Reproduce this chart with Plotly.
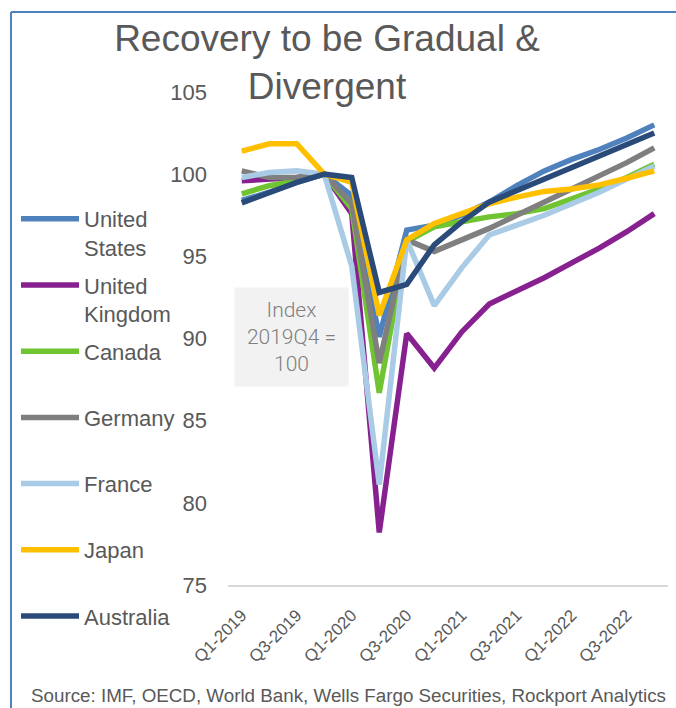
import plotly.graph_objects as go

quarters = ["Q1-2019", "Q2-2019", "Q3-2019", "Q4-2019",
            "Q1-2020", "Q2-2020", "Q3-2020", "Q4-2020",
            "Q1-2021", "Q2-2021", "Q3-2021", "Q4-2021",
            "Q1-2022", "Q2-2022", "Q3-2022", "Q4-2022"]
tick_labels = ["Q1-2019", "Q3-2019", "Q1-2020", "Q3-2020",
               "Q1-2021", "Q3-2021", "Q1-2022", "Q3-2022"]

united_states = [98.4, 98.9, 99.5, 100.0, 98.7, 90.1, 96.6, 96.9, 97.5, 98.3, 99.3, 100.2, 100.9, 101.5, 102.2, 103.0]
united_kingdom = [99.6, 99.7, 99.8, 100.0, 97.6, 78.2, 90.3, 88.2, 90.4, 92.1, 92.9, 93.7, 94.6, 95.5, 96.5, 97.6]
canada = [98.8, 99.3, 99.6, 100.0, 97.9, 86.7, 95.9, 96.8, 97.1, 97.4, 97.6, 97.9, 98.5, 99.1, 99.8, 100.6]
germany = [100.2, 99.8, 99.8, 100.0, 98.2, 88.5, 96.0, 95.3, 96.0, 96.7, 97.5, 98.3, 99.1, 99.9, 100.7, 101.6]
france = [99.8, 100.1, 100.2, 100.0, 94.4, 81.1, 96.0, 92.0, 94.3, 96.3, 96.9, 97.5, 98.2, 98.9, 99.7, 100.5]
japan = [101.4, 101.85, 101.85, 100.0, 99.5, 91.4, 96.0, 97.0, 97.6, 98.2, 98.6, 98.95, 99.1, 99.35, 99.75, 100.2]
australia = [98.25, 98.9, 99.5, 100.0, 99.8, 92.8, 93.3, 95.7, 97.1, 98.3, 99.0, 99.7, 100.4, 101.1, 101.8, 102.5]

series = [
    ("United<br>States", united_states, "#4F81BD"),
    ("United<br>Kingdom", united_kingdom, "#87218F"),
    ("Canada<br>&nbsp;", canada, "#70C432"),
    ("Germany<br>&nbsp;", germany, "#7F7F7F"),
    ("France<br>&nbsp;", france, "#A9CBE5"),
    ("Japan<br>&nbsp;", japan, "#FFC000"),
    ("Australia<br>&nbsp;", australia, "#2A4B7A"),
]

fig = go.Figure()
for i, (name, vals, color) in enumerate(series):
    fig.add_trace(go.Scatter(
        x=quarters, y=vals, name=name, mode="lines",
        legendgroup=f"g{i}",
        line=dict(color=color, width=5.5),
    ))

W, H = 676, 708
L, R, T, B = 228, 8, 92, 123
PW, PH = W - L - R, H - T - B


def px_x(x):
    return (x - L) / PW


def px_y(y):
    return (H - B - y) / PH


fig.update_layout(
    width=W, height=H,
    margin=dict(l=L, r=R, t=T, b=B, autoexpand=False),
    paper_bgcolor="white", plot_bgcolor="white",
    font=dict(family="Liberation Sans, Arial, sans-serif", color="#595959"),
    title=dict(
        text="Recovery to be Gradual &<br>Divergent",
        x=327 / W, xanchor="center", xref="container",
        y=1 - 51 / H, yanchor="top", yref="container",
        font=dict(size=37, color="#595959"),
    ),
    showlegend=True,
    legend=dict(
        xref="container", yref="container",
        x=16 / W, xanchor="left",
        y=1 - 198 / H, yanchor="top",
        font=dict(size=22, color="#595959"),
        valign="top",
        traceorder="grouped",
        tracegroupgap=6,
        itemwidth=58,
        maxheight=1,
        bgcolor="rgba(0,0,0,0)",
    ),
    xaxis=dict(
        type="category",
        range=[-0.5, len(quarters) - 0.5],
        tickmode="array", tickvals=tick_labels, ticktext=tick_labels,
        tickangle=-45,
        tickfont=dict(size=17, color="#595959"),
        showgrid=False, zeroline=False,
        showline=True, linecolor="#D9D9D9", linewidth=1.5,
        ticks="", ticklabelstandoff=12,
    ),
    yaxis=dict(
        range=[75, 105], tickvals=[75, 80, 85, 90, 95, 100, 105],
        tickfont=dict(size=22, color="#595959"),
        showgrid=False, zeroline=False, showline=False,
        ticks="", ticklabelstandoff=20,
    ),
)

# index note box
fig.add_annotation(
    xref="paper", yref="paper",
    x=px_x(291.5), y=px_y(337),
    xanchor="center", yanchor="middle",
    text="Index<br>2019Q4 =<br>100",
    showarrow=False,
    font=dict(family="Roboto, Liberation Sans, sans-serif", size=21, color="#7F7F7F", weight=300),
    bgcolor="#F2F2F2", width=107, height=92, borderpad=3,
)

# source note
fig.add_annotation(
    xref="paper", yref="paper",
    x=px_x(348), y=px_y(695),
    xanchor="center", yanchor="middle",
    text="Source: IMF, OECD, World Bank, Wells Fargo Securities, Rockport Analytics",
    showarrow=False,
    font=dict(size=18.8, color="#595959"),
)

# chart frame (top and left edges visible)
fig.add_shape(type="line", xref="paper", yref="paper",
              x0=px_x(11), x1=px_x(W + 5), y0=px_y(12), y1=px_y(12),
              line=dict(color="#4F81BD", width=2))
fig.add_shape(type="line", xref="paper", yref="paper",
              x0=px_x(11), x1=px_x(11), y0=px_y(12), y1=px_y(H + 5),
              line=dict(color="#4F81BD", width=2))

fig.write_html(
    "out.html",
    config={"displayModeBar": False},
    post_script="document.body.style.margin='0';document.body.style.overflow='hidden';",
)
